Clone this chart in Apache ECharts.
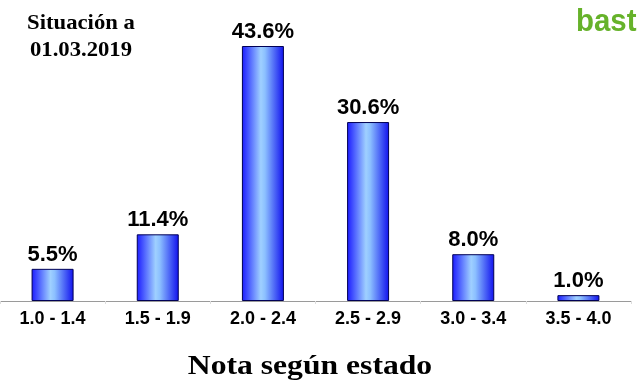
<!DOCTYPE html>
<html><head><meta charset="utf-8">
<script src="https://cdn.jsdelivr.net/npm/echarts@6/dist/echarts.min.js"></script>
<style>html,body{margin:0;padding:0;background:#fff}#c{width:641px;height:382px}</style>
</head><body><div id="c"></div>
<script>
const categories = ["1.0 - 1.4","1.5 - 1.9","2.0 - 2.4","2.5 - 2.9","3.0 - 3.4","3.5 - 4.0"];
const values = [5.5, 11.4, 43.6, 30.6, 8.0, 1.0];
const chart = echarts.init(document.getElementById('c'));
chart.setOption({
  animation:false,
  backgroundColor:'#fff',
  grid:{left:-7,right:10,top:46,bottom:81,containLabel:false},
  graphic:[
    {type:'text',x:81,y:10,scaleX:1.08,style:{text:'Situación a\n01.03.2019',align:'center',font:'bold 21px "Liberation Serif"',lineHeight:27,fill:'#000'}},
    {type:'text',x:310,y:353,scaleX:1.13,style:{text:'Nota según estado',align:'center',font:'bold 28px "Liberation Serif"',fill:'#000'}},
    {type:'text',x:576,y:6,scaleX:0.92,style:{text:'bast',font:'bold 32px "Liberation Sans"',fill:'#66b22a'}}
  ],
  xAxis:{type:'category',data:categories,
    axisLine:{lineStyle:{color:'#9a9a9a',width:1}},
    axisTick:{show:true,length:3,lineStyle:{color:'#dddddd'}},
    axisLabel:{fontFamily:'Liberation Sans',fontWeight:'bold',fontSize:18,color:'#000',margin:9}},
  yAxis:{type:'value',min:0,max:43.6,show:false,splitLine:{show:false}},
  series:[{type:'bar',data:values,barWidth:42,
    itemStyle:{borderColor:'#000055',borderWidth:1,
      color:new echarts.graphic.LinearGradient(0,0,1,0,[
        {offset:0,color:'#1a1aff'},{offset:0.45,color:'#9fd0ff'},{offset:0.55,color:'#8cc0ff'},{offset:1,color:'#1010ee'}])},
    label:{show:true,position:'top',distance:3,formatter:p=>p.value.toFixed(1)+'%',
      fontFamily:'Liberation Sans',fontWeight:'bold',fontSize:22,color:'#000'}}]
});
</script></body></html>
